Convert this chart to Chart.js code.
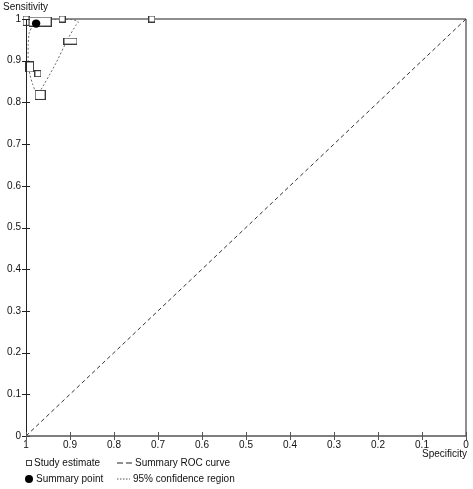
<!DOCTYPE html>
<html><head><meta charset="utf-8">
<script src="https://cdn.jsdelivr.net/npm/chart.js@4/dist/chart.umd.min.js"></script>
<style>
html,body{margin:0;padding:0;background:#fff;}
#wrap{position:relative;width:473px;height:489px;font-family:"Liberation Sans",Arial,sans-serif;font-size:10px;color:#111;}
#c{position:absolute;left:0;top:0;}
.t{position:absolute;white-space:nowrap;line-height:12px;}
.sym{position:absolute;}
</style></head><body>
<div id="wrap">
<canvas id="c" width="473" height="489"></canvas>
<div class="t" style="left:3px;top:1px">Sensitivity</div>
<div class="t" style="right:6px;top:448px">Specificity</div>
<div class="sym" style="left:26px;top:460px;width:4px;height:4px;border:1px solid #444;background:#fff"></div>
<div class="t" style="left:34px;top:457px">Study estimate</div>
<svg class="sym" style="left:116px;top:460px" width="18" height="6"><line x1="1" y1="3" x2="17" y2="3" stroke="#222" stroke-width="1" stroke-dasharray="6,3"/></svg>
<div class="t" style="left:135px;top:457px">Summary ROC curve</div>
<div class="sym" style="left:25px;top:475px;width:8px;height:8px;border-radius:50%;background:#000"></div>
<div class="t" style="left:36px;top:473px">Summary point</div>
<svg class="sym" style="left:116px;top:476px" width="16" height="6"><line x1="1" y1="3" x2="14" y2="3" stroke="#555" stroke-width="1" stroke-dasharray="1.5,1.5"/></svg>
<div class="t" style="left:133px;top:473px">95% confidence region</div>
</div>
<script>
// ---- data (specificity, sensitivity) ----
const studySpec = [1.0, 1.0, 0.968, 0.918, 0.714, 0.899, 0.992, 0.973, 0.968];
const studySens = [1.0, 0.992, 0.994, 1.0, 1.0, 0.947, 0.885, 0.869, 0.818];
const summarySpec = [0.977];
const summarySens = [0.989];
const regionSpec = [0.984, 0.9925, 0.995, 0.995, 0.991, 0.985, 0.980, 0.973, 0.968, 0.934, 0.905, 0.886, 0.881, 0.884, 0.900, 0.923, 0.957, 0.973, 0.984];
const regionSens = [0.986, 0.968, 0.938, 0.897, 0.866, 0.844, 0.830, 0.823, 0.827, 0.890, 0.952, 0.986, 0.992, 0.996, 0.999, 0.999, 0.998, 0.993, 0.986];
const srocSpec = [1, 0];
const srocSens = [0, 1];

// ---- styles (box sizes in px) ----
const boxW = [6, 6, 22, 6, 6, 13, 8, 6, 10];
const boxH = [6, 6, 9, 6, 6, 6, 10, 6, 9];

function makeBox(w, h) {
  const c = document.createElement('canvas');
  c.width = w + 1; c.height = h + 1;
  const g = c.getContext('2d');
  g.fillStyle = '#fff';
  g.fillRect(0.5, 0.5, w, h);
  g.strokeStyle = '#3a3a3a';
  g.lineWidth = 1;
  g.strokeRect(0.5, 0.5, w, h);
  return c;
}
const boxes = boxW.map((w, i) => makeBox(w, boxH[i]));

function pts(xs, ys) { return xs.map((x, i) => ({x: x, y: ys[i]})); }
function fmt(v) { return String(Number(v.toFixed(1))); }

const frame = {
  id: 'frame',
  beforeDatasetsDraw(chart) {
    const {ctx, chartArea: a} = chart;
    ctx.save();
    ctx.strokeStyle = '#6a6a6a';
    ctx.lineWidth = 1.5;
    ctx.beginPath();
    ctx.moveTo(a.left, a.top); ctx.lineTo(a.right, a.top);
    ctx.moveTo(a.right, a.top); ctx.lineTo(a.right, a.bottom);
    ctx.stroke();
    ctx.restore();
  },
  afterDraw(chart) {
    const {ctx, chartArea: a, scales} = chart;
    ctx.save();
    ctx.strokeStyle = '#222';
    ctx.lineWidth = 1;
    ctx.beginPath();
    ctx.moveTo(a.left + 0.5, a.top); ctx.lineTo(a.left + 0.5, a.bottom);
    scales.y.ticks.forEach(t => {
      const y = Math.round(scales.y.getPixelForValue(t.value)) + 0.5;
      ctx.moveTo(a.left - 4, y); ctx.lineTo(a.left + 4, y);
    });
    ctx.stroke();
    ctx.strokeStyle = '#555';
    ctx.lineWidth = 1.5;
    ctx.beginPath();
    ctx.moveTo(a.left, a.bottom); ctx.lineTo(a.right, a.bottom);
    ctx.stroke();
    ctx.lineWidth = 1;
    ctx.beginPath();
    scales.x.ticks.forEach(t => {
      const x = Math.round(scales.x.getPixelForValue(t.value)) + 0.5;
      ctx.moveTo(x, a.bottom - 4); ctx.lineTo(x, a.bottom + 4);
    });
    ctx.stroke();
    ctx.restore();
  }
};

new Chart(document.getElementById('c'), {
  type: 'scatter',
  data: {
    datasets: [
      {
        label: 'Summary point',
        data: pts(summarySpec, summarySens),
        pointStyle: 'circle', pointRadius: 4.2,
        backgroundColor: '#000', borderColor: '#000', borderWidth: 0,
        clip: false
      },
      {
        label: 'Study estimate',
        data: pts(studySpec, studySens),
        pointStyle: (ctx) => boxes[ctx.dataIndex],
        clip: false
      },
      {
        label: '95% confidence region',
        data: pts(regionSpec, regionSens),
        showLine: true, pointRadius: 0,
        borderColor: '#666', borderWidth: 1, borderDash: [2, 2],
        tension: 0.2, clip: false
      },
      {
        label: 'Summary ROC curve',
        data: pts(srocSpec, srocSens),
        showLine: true, pointRadius: 0,
        borderColor: '#333', borderWidth: 1, borderDash: [4, 3],
        clip: false
      }
    ]
  },
  options: {
    responsive: false,
    animation: false,
    events: [],
    layout: { padding: { top: 19, right: 7, bottom: 33, left: 0 } },
    plugins: { legend: { display: false }, tooltip: { enabled: false } },
    scales: {
      x: {
        type: 'linear', reverse: true, min: 0, max: 1,
        grid: { display: false, drawTicks: false }, border: { display: false },
        ticks: { stepSize: 0.1, padding: 3, maxRotation: 0, autoSkip: false,
                 callback: (v) => fmt(v),
                 color: '#111', font: { family: '"Liberation Sans", Arial, sans-serif', size: 10 } },
        afterFit(s) { s.height = 20; }
      },
      y: {
        type: 'linear', min: 0, max: 1,
        grid: { display: false, drawTicks: false }, border: { display: false },
        ticks: { stepSize: 0.1, padding: 5, autoSkip: false,
                 callback: (v) => fmt(v),
                 color: '#111', font: { family: '"Liberation Sans", Arial, sans-serif', size: 10 } },
        afterFit(s) { s.width = 26; }
      }
    }
  },
  plugins: [frame]
});
</script>
</body></html>
